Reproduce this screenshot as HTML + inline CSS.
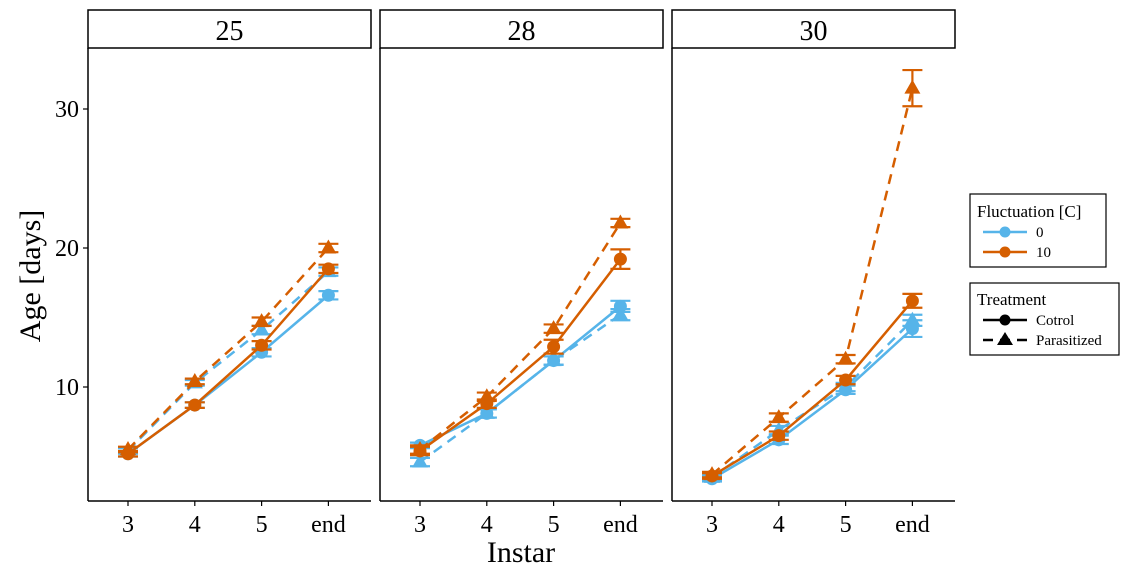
<!DOCTYPE html>
<html><head><meta charset="utf-8">
<style>body{margin:0;background:#fff}svg{display:block;font-family:"Liberation Serif",serif}</style>
</head><body>
<svg id="c" width="1130" height="575"></svg>
<script>
const panels=["25","28","30"];
const categories=["3","4","5","end"];
const yTicks=[10,20,30];
const ctrl0=[[5.2,8.7,12.5,16.6],[5.8,8.1,11.9,15.8],[3.4,6.2,9.8,14.2]];
const ctrl10=[[5.2,8.7,13.0,18.5],[5.4,8.8,12.9,19.2],[3.6,6.5,10.5,16.2]];
const para0=[[5.4,10.3,14.1,18.3],[4.6,8.1,11.9,15.2],[3.5,6.9,10.0,14.8]];
const para10=[[5.5,10.4,14.7,20.0],[5.5,9.3,14.2,21.8],[3.7,7.8,12.0,31.5]];
const err0c=[[0.2,0.2,0.3,0.3],[0.2,0.3,0.3,0.4],[0.2,0.3,0.3,0.6]];
const err10c=[[0.2,0.2,0.3,0.3],[0.3,0.3,0.5,0.7],[0.2,0.3,0.3,0.5]];
const err0p=[[0.2,0.2,0.3,0.3],[0.3,0.3,0.3,0.4],[0.2,0.3,0.3,0.4]];
const err10p=[[0.2,0.2,0.3,0.3],[0.3,0.3,0.3,0.3],[0.2,0.3,0.3,1.3]];
const NS="http://www.w3.org/2000/svg";
const svg=document.getElementById('c');
function mk(t,a,p){const e=document.createElementNS(NS,t);for(const k in a)e.setAttribute(k,a[k]);(p||svg).appendChild(e);return e;}
const panelX=[88,380,672],pw=283,plotTop=48,plotBot=501;
function y(v){return 387-(v-10)*13.9;}
function x(p,i){return panelX[p]+40+i*66.8;}
const BLUE="#56B4E9",OR="#D55E00";
const series=[
 {v:ctrl0,e:err0c,c:BLUE,dash:null,shape:"circle",n:"control-0"},
 {v:para0,e:err0p,c:BLUE,dash:"10,7",shape:"tri",n:"parasitized-0"},
 {v:ctrl10,e:err10c,c:OR,dash:null,shape:"circle",n:"control-10"},
 {v:para10,e:err10p,c:OR,dash:"10,7",shape:"tri",n:"parasitized-10"}];
panels.forEach((lab,p)=>{
  const g=mk('g',{});
  
  
  const st=mk('rect',{x:panelX[p],y:10,width:pw,height:38,fill:'#fff',stroke:'#000','stroke-width':1.5},g);
  
  
  const tt=mk('text',{x:panelX[p]+pw/2,y:40,'text-anchor':'middle','font-size':28},g);tt.textContent=lab;
  
  
  mk('line',{x1:panelX[p],x2:panelX[p],y1:plotTop,y2:plotBot,stroke:'#000','stroke-width':1.5},g);
  mk('line',{x1:panelX[p],x2:panelX[p]+pw,y1:plotBot,y2:plotBot,stroke:'#000','stroke-width':1.5},g);
  categories.forEach((c,i)=>{
    mk('line',{x1:x(p,i),x2:x(p,i),y1:plotBot,y2:plotBot+5,stroke:'#000','stroke-width':1.2},g);
    const t=mk('text',{x:x(p,i),y:532,'text-anchor':'middle','font-size':24},g);t.textContent=c;
    
    
  });
  series.forEach(s=>{
    const pts=s.v[p].map((v,i)=>x(p,i)+','+y(v)).join(' ');
    const l=mk('polyline',{points:pts,fill:'none',stroke:s.c,'stroke-width':2.5},g);
    if(s.dash)l.setAttribute('stroke-dasharray',s.dash);
    
    
    s.v[p].forEach((v,i)=>{
      const cx=x(p,i),cy=y(v),e=s.e[p][i];
      mk('line',{x1:cx,x2:cx,y1:y(v-e),y2:y(v+e),stroke:s.c,'stroke-width':2.2},g);
      mk('line',{x1:cx-10,x2:cx+10,y1:y(v-e),y2:y(v-e),stroke:s.c,'stroke-width':2.2},g);
      mk('line',{x1:cx-10,x2:cx+10,y1:y(v+e),y2:y(v+e),stroke:s.c,'stroke-width':2.2},g);
      let m;
      if(s.shape=="circle")m=mk('circle',{cx:cx,cy:cy,r:6.5,fill:s.c},g);
      else m=mk('polygon',{points:`${cx},${cy-8.5} ${cx-8},${cy+5.5} ${cx+8},${cy+5.5}`,fill:s.c},g);
      
      
    });
  });
});
yTicks.forEach(v=>{
  mk('line',{x1:83,x2:88,y1:y(v),y2:y(v),stroke:'#000','stroke-width':1.2});
  const t=mk('text',{x:79,y:y(v)+8,'text-anchor':'end','font-size':24});t.textContent=v;
  
  
});
let t=mk('text',{x:521,y:562,'text-anchor':'middle','font-size':30});t.textContent="Instar";


t=mk('text',{x:0,y:0,'text-anchor':'middle','font-size':30,transform:'translate(40,276) rotate(-90)'});t.textContent="Age [days]";


let lg=mk('g',{});


mk('rect',{x:970,y:194,width:136,height:73,fill:'#fff',stroke:'#000','stroke-width':1.2},lg);
t=mk('text',{x:977,y:217,'font-size':17},lg);t.textContent="Fluctuation [C]";
[[BLUE,"0",232],[OR,"10",252]].forEach(([c,l,yy])=>{
  mk('line',{x1:983,x2:1027,y1:yy,y2:yy,stroke:c,'stroke-width':2.5},lg);
  mk('circle',{cx:1005,cy:yy,r:5.5,fill:c},lg);
  const tx=mk('text',{x:1036,y:yy+5,'font-size':15},lg);tx.textContent=l;
  
  
});
lg=mk('g',{});


mk('rect',{x:970,y:283,width:149,height:72,fill:'#fff',stroke:'#000','stroke-width':1.2},lg);
t=mk('text',{x:977,y:305,'font-size':17},lg);t.textContent="Treatment";
mk('line',{x1:983,x2:1027,y1:320,y2:320,stroke:'#000','stroke-width':2.5},lg);
mk('circle',{cx:1005,cy:320,r:5.5,fill:'#000'},lg);
mk('line',{x1:983,x2:1027,y1:340,y2:340,stroke:'#000','stroke-width':2.5,'stroke-dasharray':'10,7'},lg);
mk('polygon',{points:'1005,332 997,345 1013,345',fill:'#000'},lg);
t=mk('text',{x:1036,y:325,'font-size':15},lg);t.textContent="Cotrol";


t=mk('text',{x:1036,y:345,'font-size':15},lg);t.textContent="Parasitized";


</script>
</body></html>
